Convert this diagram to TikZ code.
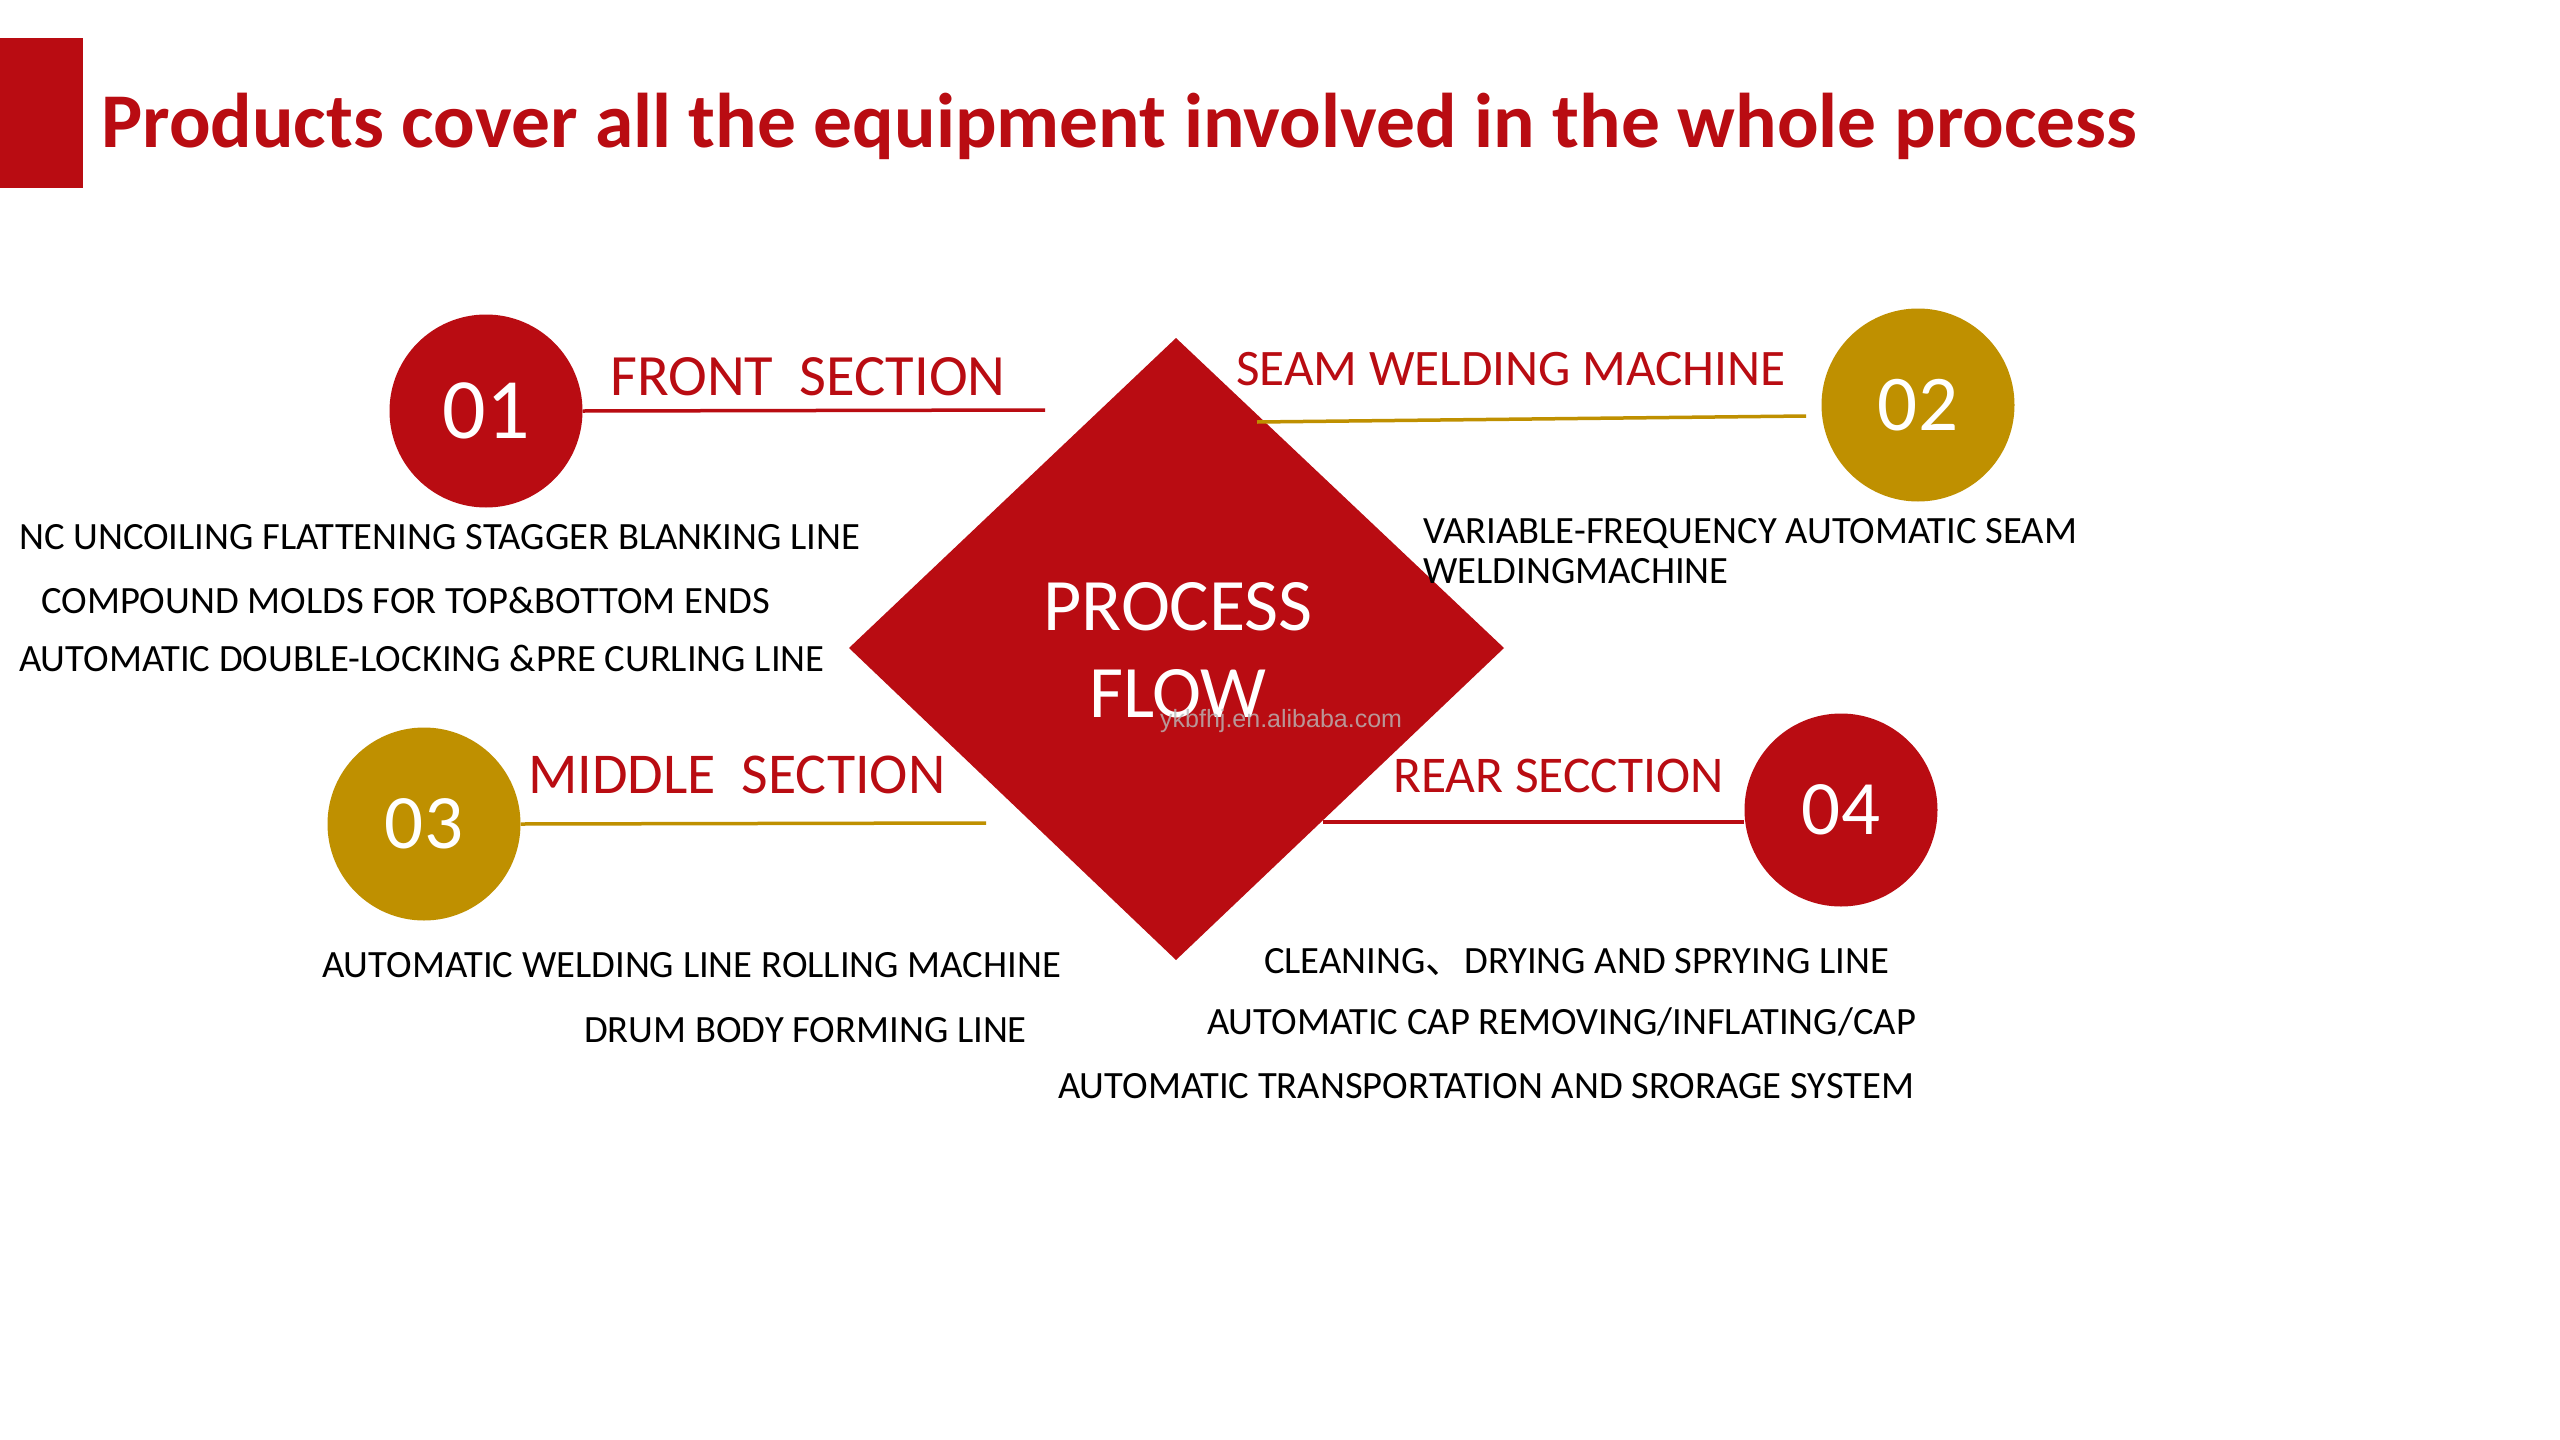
\documentclass[tikz,border=0pt]{standalone}
\usepackage{fontspec}
\setmainfont{Carlito}
\newfontfamily\cjkfont{Noto Sans CJK SC}
\newfontfamily\wmfont{Liberation Sans}
\definecolor{brandred}{RGB}{185,12,18}
\definecolor{brandgold}{RGB}{191,144,0}
\tikzset{
  numcircle/.style={circle, inner sep=0pt, minimum size=193pt, text=white},
  seclabel/.style={anchor=base west, inner sep=0pt, text=brandred},
  itemtext/.style={anchor=base west, inner sep=0pt, text=black, font=\fontsize{38.6}{40}\selectfont},
  redline/.style={draw=brandred, line width=3.5pt},
  goldline/.style={draw=brandgold, line width=3.5pt},
  centertext/.style={inner sep=0pt, text=white, font=\fontsize{74}{74}\selectfont}
}
\begin{document}
\begin{tikzpicture}[x=1pt,y=-1pt]
\useasboundingbox (0,0) rectangle (2560,1440);
\fill[white] (0,0) rectangle (2560,1440);
% title
\fill[brandred] (0,38) rectangle (83,188);
\node[anchor=base west, inner sep=0pt, text=brandred, font=\bfseries\fontsize{77.5}{80}\selectfont] (title) at (101,147) {Products cover all the equipment involved in the whole process};
% diamond
\coordinate (dt) at (1176,338);
\coordinate (dr) at (1504,648);
\coordinate (db) at (1176,960);
\coordinate (dl) at (849,648);
\fill[brandred] (dt) -- (dr) -- (db) -- (dl) -- cycle;
\node[centertext, anchor=base] (proc) at (1178,630) {PROCESS};
\node[centertext, anchor=base] (flow) at (1178,717) {FLOW};
\node[anchor=base west, inner sep=0pt, text=gray!55, opacity=0.8, font=\wmfont\fontsize{25}{25}\selectfont] (wm) at (1160,727) {ykbfhj.en.alibaba.com};
% circles
\node[numcircle, fill=brandred, font=\fontsize{86}{86}\selectfont] (c1) at (486,411) {01};
\node[numcircle, fill=brandgold, font=\fontsize{79}{79}\selectfont] (c2) at (1918,405) {02};
\node[numcircle, fill=brandgold, font=\fontsize{77}{77}\selectfont] (c3) at (424,824) {03};
\node[numcircle, fill=brandred, font=\fontsize{77}{77}\selectfont] (c4) at (1841,810) {04};
% lines
\coordinate (e1) at (1045,410);
\coordinate (e2a) at (1257,422);
\coordinate (e2b) at (1806,416);
\coordinate (e3) at (986,823);
\coordinate (e4) at (1323,822);
\draw[redline] (c1.east) -- (e1);
\draw[goldline] (e2a) -- (e2b);
\draw[goldline] (c3.east) -- (e3);
\draw[redline] (e4) -- (e4 -| c4.west);
% section labels
\node[seclabel, font=\fontsize{58.5}{60}\selectfont] (s1) at (610,395) {FRONT\ \ SECTION};
\node[seclabel, font=\fontsize{51.2}{52}\selectfont] (s2) at (1236,385) {SEAM WELDING MACHINE};
\node[seclabel, font=\fontsize{57.8}{58}\selectfont] (s3) at (528,793) {MIDDLE\ \ SECTION};
\node[seclabel, font=\fontsize{51.5}{52}\selectfont] (s4) at (1393,792) {REAR SECCTION};
% items
\node[itemtext] (a1) at (19,549) {NC UNCOILING FLATTENING STAGGER BLANKING LINE};
\node[itemtext] (a2) at (41,613) {COMPOUND MOLDS FOR TOP\&BOTTOM ENDS};
\node[itemtext] (a3) at (19,671) {AUTOMATIC DOUBLE-LOCKING \&PRE CURLING LINE};
\node[itemtext] (b1) at (1423,543) {VARIABLE-FREQUENCY AUTOMATIC SEAM};
\node[itemtext] (b2) at (1423,583) {WELDINGMACHINE};
\node[itemtext] (m1) at (322,977) {AUTOMATIC WELDING LINE ROLLING MACHINE};
\node[itemtext] (m2) at (584,1042) {DRUM BODY FORMING LINE};
\node[itemtext] (r1) at (1264,973) {CLEANING{\cjkfont 、}DRYING AND SPRYING LINE};
\node[itemtext] (r2) at (1207,1034) {AUTOMATIC CAP REMOVING/INFLATING/CAP};
\node[itemtext] (r3) at (1058,1098) {AUTOMATIC TRANSPORTATION AND SRORAGE SYSTEM};
\end{tikzpicture}
\end{document}
